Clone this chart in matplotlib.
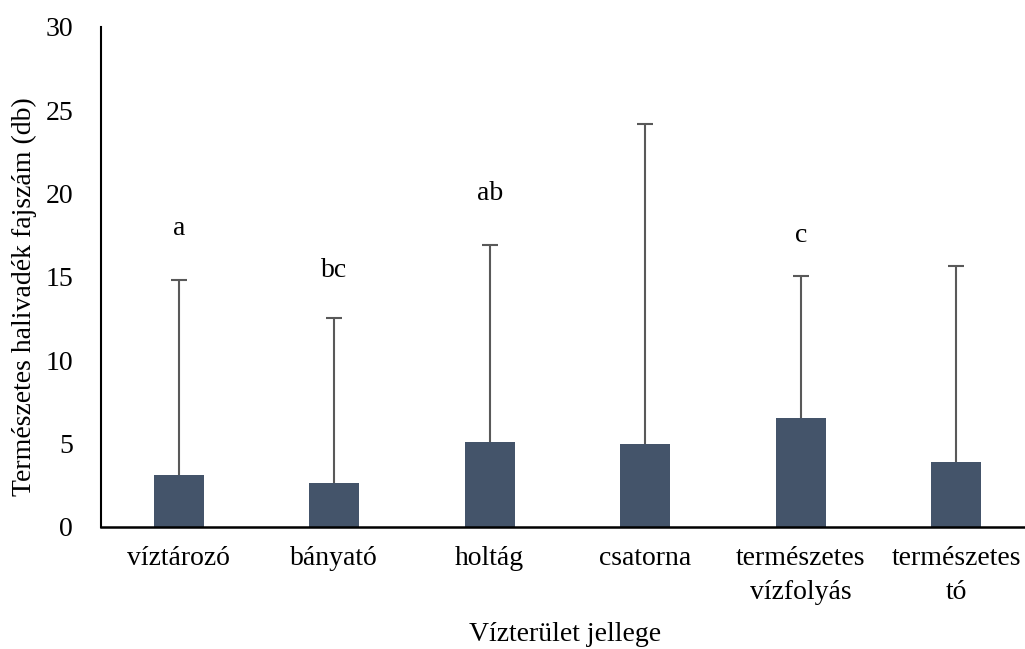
import numpy as np
import matplotlib
matplotlib.use("Agg")
import matplotlib.pyplot as plt

plt.rcParams['font.family'] = ['Liberation Serif', 'DejaVu Serif']

categories = ["víztározó", "bányató", "holtág", "csatorna",
              "természetes\nvízfolyás", "természetes\ntó"]
means = [3.1, 2.66, 5.12, 5.0, 6.54, 3.92]
upper = [14.82, 12.52, 16.92, 24.18, 15.06, 15.64]   # top of the error bar
letters = ["a", "bc", "ab", "", "c", ""]
letter_y = [17.9, 15.4, 20.0, 0, 17.5, 0]

x = np.arange(len(categories))

fig = plt.figure(figsize=(10.25, 6.49), dpi=100)
ax = fig.add_axes([101/1025, 122/649, 933/1025, 500/649])

ax.bar(x, means, width=0.32, color="#44546A", zorder=2)
# upper-only error bars: stem plus a cap at the top
ax.vlines(x, means, upper, color="#595959", linewidth=1.5, zorder=1)
ax.plot(x, upper, linestyle="none", marker="_", markersize=12,
        markeredgewidth=1.5, color="#595959", zorder=1)

for xi, lab, ly in zip(x, letters, letter_y):
    if lab:
        ax.text(xi, ly, lab, ha="center", va="center", fontsize=20)

ax.set_xlim(-0.5, len(categories) - 0.5)
ax.set_ylim(0, 30)
ax.set_yticks([0, 5, 10, 15, 20, 25, 30])
ax.set_xticks(x)
ax.set_xticklabels(categories, fontsize=20, linespacing=1.45)
ax.tick_params(axis="y", labelsize=20, length=0, pad=20)
ax.tick_params(axis="x", length=0, pad=14)

for s in ["top", "right"]:
    ax.spines[s].set_visible(False)
ax.spines["left"].set_linewidth(1.5)
ax.spines["bottom"].set_linewidth(1.8)

ax.set_ylabel("Természetes halivadék fajszám (db)", fontsize=20)
ax.set_xlabel("Vízterület jellege", fontsize=20)
ax.yaxis.set_label_coords(-0.069, 0.46)
ax.xaxis.set_label_coords(0.497, -0.19)

fig.savefig("out.png", dpi=100)
